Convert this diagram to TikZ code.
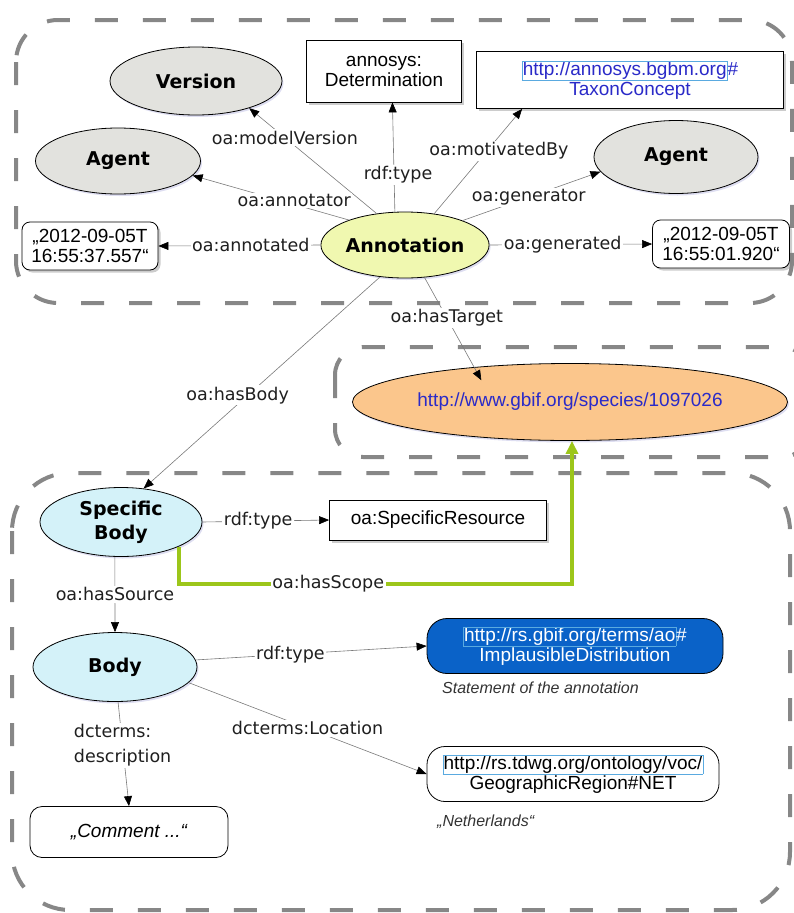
\documentclass[tikz,border=0pt]{standalone}
\usepackage{fontspec}
\setmainfont{Liberation Sans}
\newfontfamily\dvs{DejaVu Sans}
\usetikzlibrary{arrows.meta,shapes.geometric,shadows,calc}

\definecolor{dashgray}{HTML}{878787}
\definecolor{grayfill}{HTML}{E2E2DE}
\definecolor{annfill}{HTML}{F0F8B0}
\definecolor{bodyfill}{HTML}{D4F2F9}
\definecolor{tgtfill}{HTML}{FBC68C}
\definecolor{implblue}{HTML}{0A62C8}
\definecolor{scopegreen}{HTML}{9CC61A}
\definecolor{urlblue}{HTML}{2A2AC8}
\definecolor{linkframe}{HTML}{5AAAE0}
\definecolor{edgegray}{HTML}{7A7A7A}
\definecolor{glow}{HTML}{C8C8E8}

\newcommand\lnkbox[2]{{\setlength\fboxsep{0.3pt}\setlength\fboxrule{0.6pt}\color{linkframe}\fbox{\color{#1}#2}}}

\tikzset{
  grp/.style={draw=dashgray, line width=4pt, dash pattern=on 23pt off 25pt},
  boxnode/.style={draw=black, line width=0.8pt, fill=white, align=center, inner sep=0pt,
    font=\fontsize{19}{20}\selectfont},
  shad/.style={drop shadow={shadow xshift=2.5pt, shadow yshift=-2.5pt, opacity=0.4, fill=gray}},
  eshad/.style={drop shadow={shadow xshift=1.5pt, shadow yshift=-2pt, opacity=0.6, fill=glow}},
  ellnode/.style={ellipse, draw=black, line width=0.8pt, inner sep=0pt, align=center, eshad,
    font=\dvs\bfseries\fontsize{19}{24}\selectfont},
  edge/.style={draw=edgegray, line width=0.6pt, -{Triangle[length=10pt,width=8pt,color=black]}},
  lab/.style={fill=white, inner sep=1.5pt, text=black!88, font=\dvs\fontsize{17.5}{25}\selectfont},
  scopeline/.style={draw=scopegreen, line width=3.5pt, -{Triangle[length=13pt,width=12pt]}},
  notetext/.style={inner sep=0pt, text=black!80, font=\itshape\fontsize{16}{18}\selectfont},
}

\begin{document}
\begin{tikzpicture}[x=1pt,y=-1pt]
\useasboundingbox (0,0) rectangle (793,913);

% groups
\draw[grp, rounded corners=42pt] (16,20) rectangle (792,303);
\draw[grp, rounded corners=28pt] (335,347) rectangle (810,457);
\draw[grp, rounded corners=58pt] (12,473) rectangle (790,910);

% nodes
\node[ellnode, fill=grayfill, minimum width=172pt, minimum height=68pt] (ver) at (196,81) {Version};
\node[ellnode, fill=grayfill, minimum width=165pt, minimum height=66pt] (ag1) at (118,161) {Agent};
\node[boxnode, shad, minimum width=155pt, minimum height=62pt] (det) at (384,71) {annosys:\\Determination};
\node[boxnode, shad, minimum width=307pt, minimum height=57pt, text=urlblue] (tax) at (630,80)
  {\lnkbox{urlblue}{http://annosys.bgbm.org}\#\\TaxonConcept};
\node[ellnode, fill=grayfill, minimum width=164pt, minimum height=73pt] (ag2) at (676,157) {Agent};
\node[ellnode, fill=annfill, minimum width=168pt, minimum height=66pt] (ann) at (405,245) {Annotation};
\node[boxnode, shad, rounded corners=8pt, minimum width=136pt, minimum height=48pt] (d1) at (90,246)
  {„2012-09-05T\\16:55:37.557“};
\node[boxnode, shad, rounded corners=8pt, minimum width=137pt, minimum height=48pt] (d2) at (721,244)
  {„2012-09-05T\\16:55:01.920“};
\node[ellnode, fill=tgtfill, minimum width=435pt, minimum height=77pt, text=urlblue,
  font=\fontsize{19}{22}\selectfont] (tgt) at (570,402) {http://www.gbif.org/species/1097026};
\node[ellnode, fill=bodyfill, minimum width=162pt, minimum height=69pt] (sb) at (121,522) {Specific\\Body};
\node[boxnode, shad, minimum width=217pt, minimum height=40pt] (sr) at (438,520) {oa:SpecificResource};
\node[ellnode, fill=bodyfill, minimum width=164pt, minimum height=69pt] (body) at (115,667) {Body};
\node[boxnode, rounded corners=20pt, fill=implblue, text=white, minimum width=296pt, minimum height=55pt]
  (impl) at (575,646) {\lnkbox{white}{http://rs.gbif.org/terms/ao}\#\\ImplausibleDistribution};
\node[notetext, anchor=west] (stmt) at (442,688) {Statement of the annotation};
\node[boxnode, rounded corners=18pt, minimum width=292pt, minimum height=55pt] (geo) at (573,774)
  {\lnkbox{black}{http://rs.tdwg.org/ontology/voc/}\\GeographicRegion\#NET};
\node[notetext, anchor=west, font=\itshape\fontsize{16}{18}\selectfont] (nl) at (437,822) {„Netherlands“};
\node[boxnode, rounded corners=12pt, minimum width=198pt, minimum height=51pt,
  font=\itshape\fontsize{19}{20}\selectfont] (com) at (129,832) {„Comment ...“};

\coordinate (sc) at (572,584);

% edges
\draw[edge] (ann.132) -- node[lab,pos=0.72]{oa:modelVersion} (ver.-27);
\draw[edge] (ann.107) -- node[lab,pos=0.34,xshift=4pt]{rdf:type} (det.-75);
\draw[edge] (ann.47) -- node[lab,pos=0.6,xshift=12pt]{oa:motivatedBy} (tax.195);
\draw[edge] (ann.23) -- node[lab,pos=0.48]{oa:generator} (ag2.191);
\draw[edge] (ann.156) -- node[lab,pos=0.35,yshift=4pt]{oa:annotator} (ag1.-11);
\draw[edge] (ann.west) -- node[lab,pos=0.43]{oa:annotated} (d1.east);
\draw[edge] (ann.east) -- node[lab,pos=0.45]{oa:generated} (d2.west);
\draw[edge, shorten >=-15pt] (ann.-59) -- node[lab,pos=0.45]{oa:hasTarget} (tgt.160);
\draw[edge] (ann.232) -- node[lab,pos=0.56,xshift=-10pt]{oa:hasBody} (sb.56);
\draw[edge] (sb.east) -- node[lab,pos=0.44]{rdf:type} (sr.west);
\draw[scopeline] (sb.-23) |- node[lab,pos=0.69]{oa:hasScope} (sc) -- (sc |- tgt.south);
\draw[edge] (sb.260) -- node[lab,pos=0.5]{oa:hasSource} (body.north);
\draw[edge] (body.5) -- node[lab,pos=0.41]{rdf:type} (impl.west);
\draw[edge] (body.-12) -- node[lab,pos=0.5]{dcterms:Location} (geo.west);
\draw[edge] (body.-85) -- node[lab,pos=0.42,align=left]{dcterms:\\description} (com.north);
\end{tikzpicture}
\end{document}
